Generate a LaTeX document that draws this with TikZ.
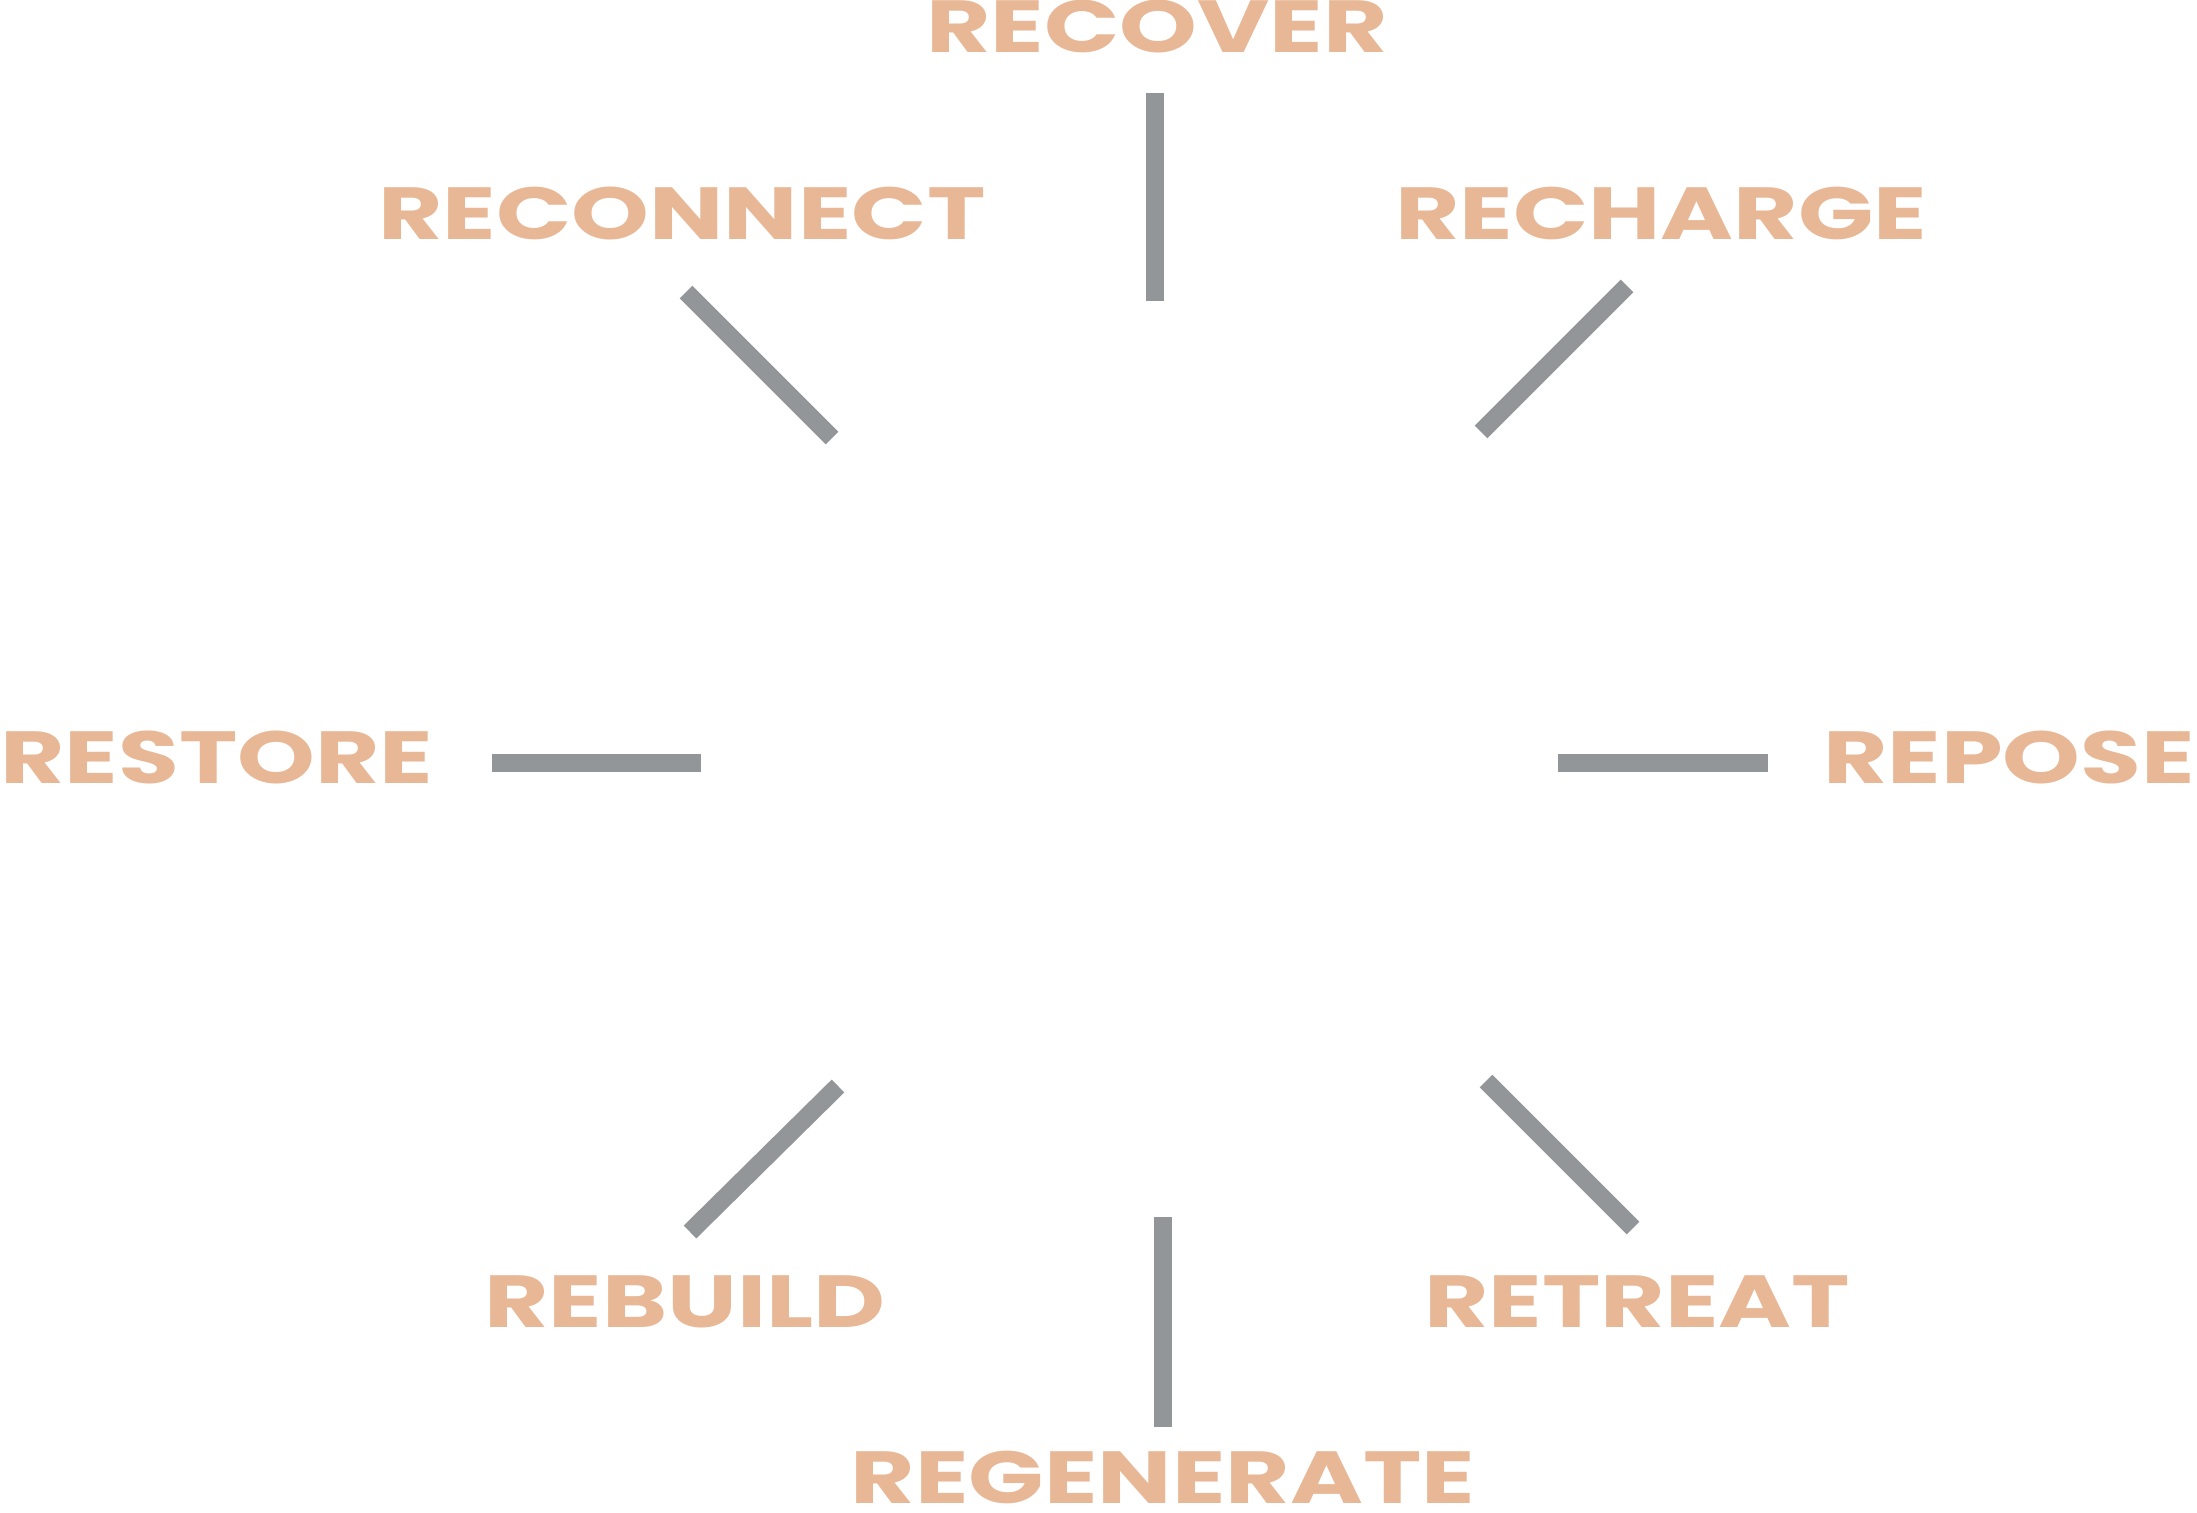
\documentclass[tikz,border=0pt]{standalone}
\usepackage{fontspec}
\newfontfamily\wordfont[FakeStretch=1.34]{Poppins}
\definecolor{peach}{HTML}{E8B796}
\definecolor{spokegray}{HTML}{939699}
\tikzset{
  word/.style={text=peach, inner sep=0pt, font=\wordfont\bfseries\fontsize{21}{21}\selectfont},
  spoke/.style={draw=spokegray, line width=0.18cm}
}
\begin{document}
\begin{tikzpicture}
\useasboundingbox (0,0) rectangle (21.97,15.12);
\node[word] (recover) at (11.57,14.86) {RECOVER};
\node[word] (reconnect) at (6.82,12.99) {RECONNECT};
\node[word] (recharge) at (16.61,12.99) {RECHARGE};
\node[word] (restore) at (2.17,7.55) {RESTORE};
\node[word] (repose) at (20.09,7.55) {REPOSE};
\node[word] (rebuild) at (6.85,2.10) {REBUILD};
\node[word] (retreat) at (16.37,2.10) {RETREAT};
\node[word] (regenerate) at (11.63,0.35) {REGENERATE};
% spoke ends
\coordinate (n1) at (11.55,14.19); \coordinate (n2) at (11.55,12.11);
\coordinate (ne1) at (16.27,12.26); \coordinate (ne2) at (14.81,10.80);
\coordinate (e1) at (17.68,7.49); \coordinate (e2) at (15.58,7.49);
\coordinate (se1) at (16.33,2.84); \coordinate (se2) at (14.86,4.31);
\coordinate (s1) at (11.63,0.85); \coordinate (s2) at (11.63,2.95);
\coordinate (sw1) at (6.90,2.80); \coordinate (sw2) at (8.38,4.26);
\coordinate (w1) at (4.92,7.49); \coordinate (w2) at (7.01,7.49);
\coordinate (nw1) at (6.86,12.20); \coordinate (nw2) at (8.32,10.74);
\draw[spoke] (n1) -- (n2);
\draw[spoke] (ne1) -- (ne2);
\draw[spoke] (e1) -- (e2);
\draw[spoke] (se1) -- (se2);
\draw[spoke] (s1) -- (s2);
\draw[spoke] (sw1) -- (sw2);
\draw[spoke] (w1) -- (w2);
\draw[spoke] (nw1) -- (nw2);
\end{tikzpicture}
\end{document}
